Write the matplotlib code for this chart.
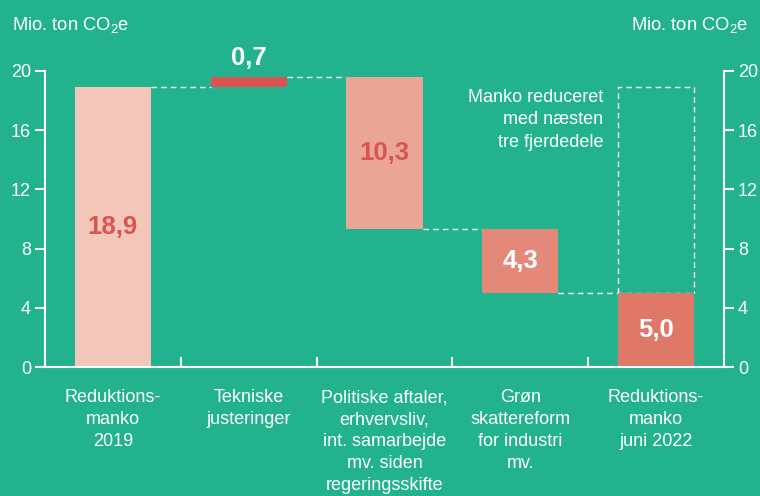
import matplotlib.pyplot as plt
from matplotlib.transforms import blended_transform_factory

plt.rcParams["font.family"] = ["Liberation Sans", "DejaVu Sans"]
plt.rcParams["mathtext.fontset"] = "custom"
plt.rcParams["mathtext.rm"] = "Liberation Sans"
plt.rcParams["mathtext.it"] = "Liberation Sans:italic"

BACKGROUND = "#22B38E"
WHITE = "#FFFFFF"

categories = [
    "Reduktions-\nmanko\n2019",
    "Tekniske\njusteringer",
    "Politiske aftaler,\nerhvervsliv,\nint. samarbejde\nmv. siden\nregeringsskifte",
    "Grøn\nskattereform\nfor industri\nmv.",
    "Reduktions-\nmanko\njuni 2022",
]
start_value = 18.9
changes = [0.7, -10.3, -4.3]
end_value = 5.0
value_labels = ["18,9", "0,7", "10,3", "4,3", "5,0"]
bar_colors = ["#F2C7BA", "#DA5452", "#EAA596", "#E4897A", "#E07868"]
label_colors = ["#DA5452", WHITE, "#DA5452", WHITE, WHITE]
y_ticks = [0, 4, 8, 12, 16, 20]
unit_label = "Mio. ton CO$_2$e"
note = "Manko reduceret\nmed næsten\ntre fjerdedele"


def main():
    # bar spans: start bar, floating change bars, end bar
    bottoms = [0.0]
    tops = [start_value]
    level = start_value
    for change in changes:
        new_level = level + change
        bottoms.append(min(level, new_level))
        tops.append(max(level, new_level))
        level = new_level
    bottoms.append(0.0)
    tops.append(end_value)

    figure = plt.figure(figsize=(7.6, 4.96), dpi=100, facecolor=BACKGROUND)
    axis = figure.add_axes([45 / 760, 129 / 496, 679 / 760, 296 / 496])
    axis.set_facecolor(BACKGROUND)

    positions = list(range(len(categories)))
    bar_width = 0.56
    heights = [top - bottom for top, bottom in zip(tops, bottoms)]
    axis.bar(positions, heights, bottom=bottoms, width=bar_width,
             color=bar_colors, linewidth=0, zorder=2)

    # dashed connectors between bars
    dash = dict(color=WHITE, linewidth=1.0, linestyle=(0, (4, 3)), zorder=1)
    connector_levels = [start_value]
    level = start_value
    for change in changes:
        level += change
        connector_levels.append(level)
    for i, level in enumerate(connector_levels[:-1]):
        axis.plot([i + bar_width / 2, i + 1 - bar_width / 2], [level, level], **dash)
    last = len(categories) - 1
    axis.plot([last - 1 + bar_width / 2, last + bar_width / 2],
              [end_value, end_value], **dash)

    # dashed outline showing the original shortfall
    left = last - bar_width / 2
    right = last + bar_width / 2
    axis.plot([left, left, right, right],
              [end_value, start_value, start_value, end_value], **dash)

    for i, text in enumerate(value_labels):
        if i == 1:
            y, va = tops[i] + 0.5, "bottom"
        else:
            y, va = (tops[i] + bottoms[i]) / 2, "center"
        axis.text(i, y, text, ha="center", va=va, fontsize=18.5,
                  fontweight="bold", color=label_colors[i], clip_on=False, zorder=3)

    axis.text(3.61, 18.8, note, ha="right", va="top", fontsize=13,
              color=WHITE, linespacing=1.42)

    label_transform = blended_transform_factory(axis.transData, axis.transAxes)
    for i, text in enumerate(categories):
        axis.text(i, -0.075, text, transform=label_transform, ha="center",
                  va="top", fontsize=13, color=WHITE, linespacing=1.38)

    axis.set_xlim(-0.5, len(categories) - 0.5)
    axis.set_ylim(0, 20)
    axis.set_yticks(y_ticks)
    axis.set_xticks([])
    axis.set_xticks([p + 0.5 for p in positions[:-1]], minor=True)
    axis.tick_params(axis="x", which="minor", direction="in", length=7,
                     width=1.5, color=WHITE)
    axis.tick_params(axis="y", which="major", direction="out", length=7,
                     width=1.5, color=WHITE, labelcolor=WHITE, labelsize=13,
                     left=True, right=True, labelleft=True, labelright=True, pad=3)

    for side in ("left", "right", "bottom"):
        axis.spines[side].set_color(WHITE)
        axis.spines[side].set_linewidth(1.5)
    axis.spines["top"].set_visible(False)

    figure.text(12 / 760, 1 - 25 / 496, unit_label, ha="left", va="center",
                fontsize=13.2, color=WHITE)
    figure.text(748 / 760, 1 - 25 / 496, unit_label, ha="right", va="center",
                fontsize=13.2, color=WHITE)

    figure.savefig("out.png", dpi=100, facecolor=BACKGROUND)
    plt.close(figure)


if __name__ == "__main__":
    main()
